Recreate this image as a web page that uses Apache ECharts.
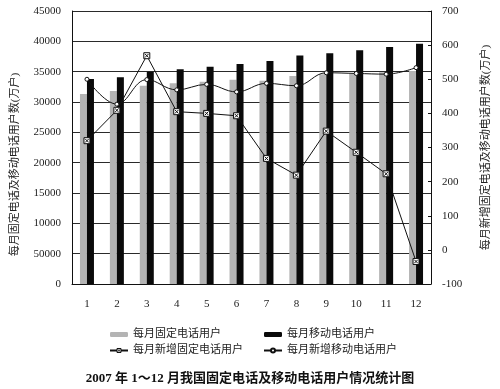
<!DOCTYPE html>
<html>
<head>
<meta charset="utf-8">
<script src="https://cdn.jsdelivr.net/npm/echarts@6/dist/echarts.min.js"></script>
<style>html,body{margin:0;padding:0;background:#fff}#c{width:500px;height:389px}</style>
</head>
<body>
<div id="c"></div>
<script>
var months = ['1','2','3','4','5','6','7','8','9','10','11','12'];
var fixedUsers = [31320, 31810, 32690, 33080, 33350, 33680, 33520, 34290, 34560, 34620, 34900, 35100];
var mobileUsers = [33790, 34070, 35000, 35390, 35820, 36265, 36760, 37665, 38030, 38520, 39050, 39595];
var newFixed = [320, 409, 569, 405, 400, 393, 268, 219, 348, 286, 223, -34];
var newMobile = [500, 427, 499, 469, 485, 463, 488, 481, 519, 517, 515, 534];
var leftTickLabels = ['0','50000','10000','15000','20000','25000','30000','35000','40000','45000'];
var rightTickLabels = ['-100','0','100','200','300','400','500','600','700'];
var seriesNames = ['每月固定电话用户','每月移动电话用户','每月新增固定电话用户','每月新增移动电话用户'];
var leftAxisName = '每月固定电话及移动电话用户数(万户)';
var rightAxisName = '每月新增固定电话及移动电话用户数(万户)';
var titleText = '2007 年 1～12 月我国固定电话及移动电话用户情况统计图';

var FONT = "'Liberation Serif','Noto Sans CJK SC',serif";
var XBOX = 'path://M0,0H10V10H0ZM2,2L8,8M8,2L2,8';
var chart = echarts.init(document.getElementById('c'), null, {renderer:'canvas'});
chart.setOption({
  animation: false,
  backgroundColor: '#fff',
  textStyle: {fontFamily: FONT, color: '#222'},
  title: {
    text: titleText, left: 'center', top: 367,
    textStyle: {fontSize: 13, fontWeight: 'bold', color: '#111', fontFamily: FONT}
  },
  legend: [{
    orient: 'vertical', left: 104, top: 324, itemWidth: 18, itemHeight: 5, itemGap: 5,
    textStyle: {fontSize: 11, color: '#222', fontFamily: FONT},
    data: [seriesNames[0], {name: seriesNames[2],
      itemStyle: {color: '#fff', borderColor: '#111', borderWidth: 1}}]
  }, {
    orient: 'vertical', left: 258, top: 324, itemWidth: 18, itemHeight: 5, itemGap: 5,
    textStyle: {fontSize: 11, color: '#222', fontFamily: FONT},
    data: [seriesNames[1], seriesNames[3]]
  }],
  grid: {left: 72, right: 68, top: 11, bottom: 105, containLabel: false},
  xAxis: {
    type: 'category', data: months,
    axisLine: {lineStyle: {color: '#111', width: 1}},
    axisTick: {inside: true, length: 3, lineStyle: {color: '#111'}},
    axisLabel: {fontSize: 11, color: '#222', margin: 15, fontFamily: FONT}
  },
  yAxis: [{
    type: 'value', min: 0, max: 45000, interval: 5000,
    name: leftAxisName, nameLocation: 'middle', nameRotate: 90, nameGap: 51,
    nameTextStyle: {fontSize: 11, color: '#222', fontFamily: FONT, padding: [0, 34, 0, 0]},
    axisLine: {show: true, lineStyle: {color: '#111'}},
    axisTick: {show: false},
    axisLabel: {fontSize: 11, color: '#222', margin: 11, fontFamily: FONT,
      formatter: function (v) { return leftTickLabels[Math.round(v / 5000)]; }},
    splitLine: {show: true, lineStyle: {color: '#2a2a2a', width: 1}}
  }, {
    type: 'value', min: -100, max: 700, interval: 100, position: 'right',
    name: rightAxisName, nameLocation: 'middle', nameRotate: 90, nameGap: 50,
    nameTextStyle: {fontSize: 11, color: '#222', fontFamily: FONT},
    axisLine: {show: true, lineStyle: {color: '#111'}},
    axisTick: {show: true, inside: true, length: 3, lineStyle: {color: '#111'}},
    axisLabel: {fontSize: 11, color: '#222', margin: 11, fontFamily: FONT,
      formatter: function (v) { return rightTickLabels[Math.round((v + 100) / 100)]; }},
    splitLine: {show: false}
  }],
  series: [{
    name: seriesNames[0], type: 'bar', data: fixedUsers, barWidth: 7, barGap: '0%',
    itemStyle: {color: '#b4b4b4'}, z: 2
  }, {
    name: seriesNames[1], type: 'bar', data: mobileUsers, barWidth: 7, barGap: '0%',
    itemStyle: {color: '#0a0a0a'}, z: 2
  }, {
    name: seriesNames[2], type: 'line', yAxisIndex: 1, data: newFixed,
    symbol: XBOX, symbolSize: 6,
    itemStyle: {color: '#fff', borderColor: '#111', borderWidth: 1},
    lineStyle: {color: '#111', width: 1}, z: 4
  }, {
    name: seriesNames[3], type: 'line', yAxisIndex: 1, data: newMobile, smooth: 0.4,
    symbol: 'circle', symbolSize: 4,
    itemStyle: {color: '#fff', borderColor: '#111', borderWidth: 1},
    lineStyle: {color: '#111', width: 1}, z: 5
  }]
});
</script>
</body>
</html>
